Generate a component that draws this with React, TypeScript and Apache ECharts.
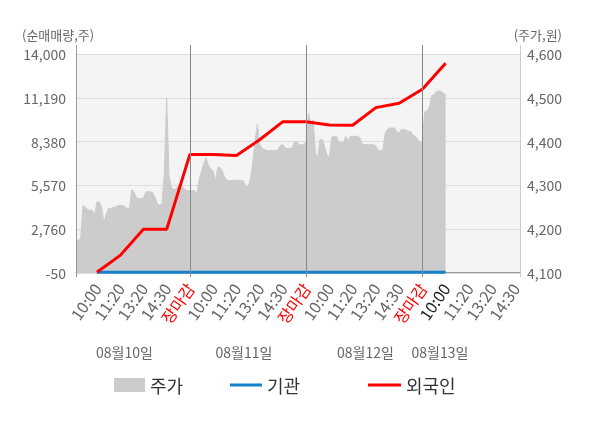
import React, { useEffect, useRef } from "react";
import * as echarts from "echarts";

// ---- data ----
const dayDates = ["08월10일", "08월11일", "08월12일", "08월13일"];
const timeLabels = ["10:00", "11:20", "13:20", "14:30", "장마감"];
const pointsPerDay = 50;
const totalPoints = 192;
const publishOffsets = [9, 19, 29, 39, 49];

// 주가 (price, right axis)
const priceDay1 = [
  4175, 4175, 4178, 4254, 4250, 4245, 4243, 4243, 4232, 4262,
  4262, 4250, 4215, 4235, 4247, 4247, 4250, 4250, 4254, 4254,
  4254, 4252, 4247, 4247, 4290, 4285, 4272, 4270, 4270, 4270,
  4284, 4286, 4285, 4283, 4273, 4258, 4255, 4258, 4330, 4500,
  4322, 4296, 4290, 4292, 4300, 4298, 4296, 4290, 4288, 4288,
];
const priceDay2 = [
  4288, 4288, 4280, 4314, 4333, 4350, 4363, 4345, 4338, 4333,
  4310, 4341, 4341, 4332, 4318, 4312, 4311, 4311, 4312, 4312,
  4312, 4311, 4311, 4300, 4296, 4315, 4350, 4400, 4440, 4395,
  4385, 4382, 4380, 4379, 4380, 4380, 4380, 4382, 4392, 4393,
  4386, 4384, 4384, 4385, 4400, 4401, 4392, 4393, 4393, 4400,
];
const priceDay3 = [
  4465, 4443, 4450, 4375, 4363, 4405, 4405, 4388, 4368, 4365,
  4410, 4412, 4412, 4400, 4397, 4397, 4412, 4402, 4412, 4412,
  4412, 4412, 4410, 4395, 4393, 4393, 4393, 4393, 4393, 4390,
  4380, 4379, 4379, 4420, 4428, 4431, 4431, 4431, 4422, 4420,
  4428, 4428, 4426, 4423, 4423, 4415, 4412, 4405, 4397, 4400,
];
const priceDay4 = [4468, 4470, 4478, 4505, 4507, 4514, 4516, 4515, 4510, 4508];

// 외국인 / 기관 net buy volume at published times (left axis)
const foreignDay1 = [0, 1080, 2750, 2750, 7560];
const foreignDay2 = [7560, 7490, 8500, 9660, 9650];
const foreignDay3 = [9450, 9430, 10560, 10840, 11740];
const foreignDay4 = [13400];
const instDay1 = [0, 0, 0, 0, 0];
const instDay2 = [0, 0, 0, 0, 0];
const instDay3 = [0, 0, 0, 0, 0];
const instDay4 = [0];

const leftMin = -50;
const leftMax = 14000;
const leftInterval = 2810;
const rightMin = 4100;
const rightMax = 4600;
const rightInterval = 100;

// ---- helpers ----
const categories: string[] = [];
const labelMap: Record<number, string> = {};
for (let i = 0; i < totalPoints; i++) {
  const d = Math.floor(i / pointsPerDay);
  const k = i % pointsPerDay;
  categories.push(`${d}-${k}`);
  const li = publishOffsets.indexOf(k);
  if (li >= 0) labelMap[i] = timeLabels[li];
}
const currentIndex = 3 * pointsPerDay + publishOffsets[0];

function buildSparse(days: number[][]) {
  const arr: (number | null)[] = [];
  days.forEach((vals, d) =>
    vals.forEach((v, k) => {
      const idx = d * pointsPerDay + publishOffsets[k];
      while (arr.length < idx) arr.push(null);
      arr[idx] = v;
    })
  );
  return arr;
}

const priceData = [...priceDay1, ...priceDay2, ...priceDay3, ...priceDay4];
const foreignData = buildSparse([foreignDay1, foreignDay2, foreignDay3, foreignDay4]);
const instData = buildSparse([instDay1, instDay2, instDay3, instDay4]);

const fmt = (v: number) => v.toLocaleString("en-US");
const FONT = "Noto Sans CJK KR";
const BLUE = "#1580cc";
const RED = "#ff0000";

export default function App() {
  const ref = useRef<HTMLDivElement>(null);
  useEffect(() => {
    if (!ref.current) return;
    const chart = echarts.init(ref.current, undefined, { renderer: "svg" });
    chart.setOption({
      animation: false,
      textStyle: { fontFamily: FONT },
      grid: {
        left: 76,
        right: 80,
        top: 54,
        bottom: 155,
        show: true,
        backgroundColor: "#f4f4f4",
        borderWidth: 0,
      },
      legend: [
        {
          data: [{ name: "주가", icon: "rect" }],
          left: 114,
          top: 376,
          padding: 0,
          itemWidth: 31,
          itemHeight: 14,
          selectedMode: false,
          textStyle: { fontSize: 18, color: "#333", fontFamily: FONT },
        },
        {
          data: [{ name: "기관", icon: "rect" }],
          left: 230,
          top: 376,
          padding: 0,
          itemWidth: 32,
          itemHeight: 3,
          selectedMode: false,
          textStyle: { fontSize: 18, color: "#333", fontFamily: FONT },
        },
        {
          data: [{ name: "외국인", icon: "rect" }],
          left: 368,
          top: 376,
          padding: 0,
          itemWidth: 33,
          itemHeight: 3,
          selectedMode: false,
          textStyle: { fontSize: 18, color: "#333", fontFamily: FONT },
        },
      ],
      xAxis: {
        type: "category",
        boundaryGap: false,
        data: categories,
        axisLine: { show: true, lineStyle: { color: "#999" } },
        axisTick: { show: false },
        splitLine: { show: false },
        axisLabel: {
          interval: (index: number) => labelMap[index] !== undefined,
          rotate: 55,
          margin: 12,
          fontSize: 16,
          color: "#666",
          fontFamily: FONT,
          formatter: (_v: string, index: number) => {
            const t = labelMap[index];
            if (t === undefined) return "";
            if (t === "장마감") return `{r|${t}}`;
            if (index === currentIndex) return `{d|${t}}`;
            return t;
          },
          rich: {
            r: { color: RED, fontSize: 16, fontFamily: FONT },
            d: { color: "#222", fontSize: 16, fontFamily: FONT },
          },
        },
      },
      yAxis: [
        {
          type: "value",
          position: "left",
          min: leftMin,
          max: leftMax,
          interval: leftInterval,
          axisLine: { show: false },
          axisTick: { show: false },
          axisLabel: {
            fontSize: 14,
            color: "#666",
            margin: 10,
            fontFamily: FONT,
            formatter: (v: number) => fmt(v),
          },
          splitLine: { show: true, lineStyle: { color: "#dcdcdc", width: 1 } },
        },
        {
          type: "value",
          position: "right",
          min: rightMin,
          max: rightMax,
          interval: rightInterval,
          axisLine: { show: false },
          axisTick: { show: false },
          axisLabel: {
            fontSize: 14,
            color: "#666",
            margin: 7,
            fontFamily: FONT,
            formatter: (v: number) => fmt(v),
          },
          splitLine: { show: false },
        },
      ],
      series: [
        {
          name: "주가",
          type: "line",
          yAxisIndex: 1,
          data: priceData,
          symbol: "none",
          lineStyle: { width: 1, color: "#cccccc" },
          itemStyle: { color: "#cccccc" },
          areaStyle: { color: "#cccccc", opacity: 1, origin: "start" },
          z: 1,
        },
        {
          name: "기관",
          type: "line",
          yAxisIndex: 0,
          data: instData,
          connectNulls: true,
          symbol: "none",
          lineStyle: { width: 3, color: BLUE },
          itemStyle: { color: BLUE },
          z: 3,
        },
        {
          name: "외국인",
          type: "line",
          yAxisIndex: 0,
          data: foreignData,
          connectNulls: true,
          symbol: "none",
          lineStyle: { width: 3, color: RED },
          itemStyle: { color: RED },
          z: 4,
        },
      ],
    });

    const px = (i: number) => chart.convertToPixel({ xAxisIndex: 0 }, i) as number;
    const x0 = px(0);
    const xEnd = px(totalPoints - 1);
    const dayLines = [1, 2, 3].map((d) => px(d * pointsPerDay - 1));
    const vline = (x: number, color: string) => ({
      type: "line",
      shape: { x1: Math.round(x) + 0.5, y1: 45, x2: Math.round(x) + 0.5, y2: 277 },
      style: { stroke: color, lineWidth: 1 },
      z: 10,
    });
    const dateCenters = [124.5, 244, 365.5, 440];
    chart.setOption({
      graphic: [
        vline(x0, "#999"),
        vline(xEnd, "#cccccc"),
        ...dayLines.map((x) => vline(x, "#888")),
        ...dayDates.map((t, i) => ({
          type: "text",
          x: dateCenters[i],
          y: 352,
          style: {
            text: t,
            fontSize: 14,
            fontFamily: FONT,
            fill: "#666",
            align: "center",
            verticalAlign: "middle",
          },
        })),
        {
          type: "text",
          x: 22,
          y: 34,
          style: {
            text: "(순매매량,주)",
            fontSize: 13,
            fontFamily: FONT,
            fill: "#666",
            align: "left",
            verticalAlign: "middle",
          },
        },
        {
          type: "text",
          x: 562,
          y: 34,
          style: {
            text: "(주가,원)",
            fontSize: 13,
            fontFamily: FONT,
            fill: "#666",
            align: "right",
            verticalAlign: "middle",
          },
        },
      ],
    });

    return () => chart.dispose();
  }, []);
  return (
    <div
      ref={ref}
      style={{ position: "fixed", left: 0, top: 0, width: 600, height: 428 }}
    />
  );
}
